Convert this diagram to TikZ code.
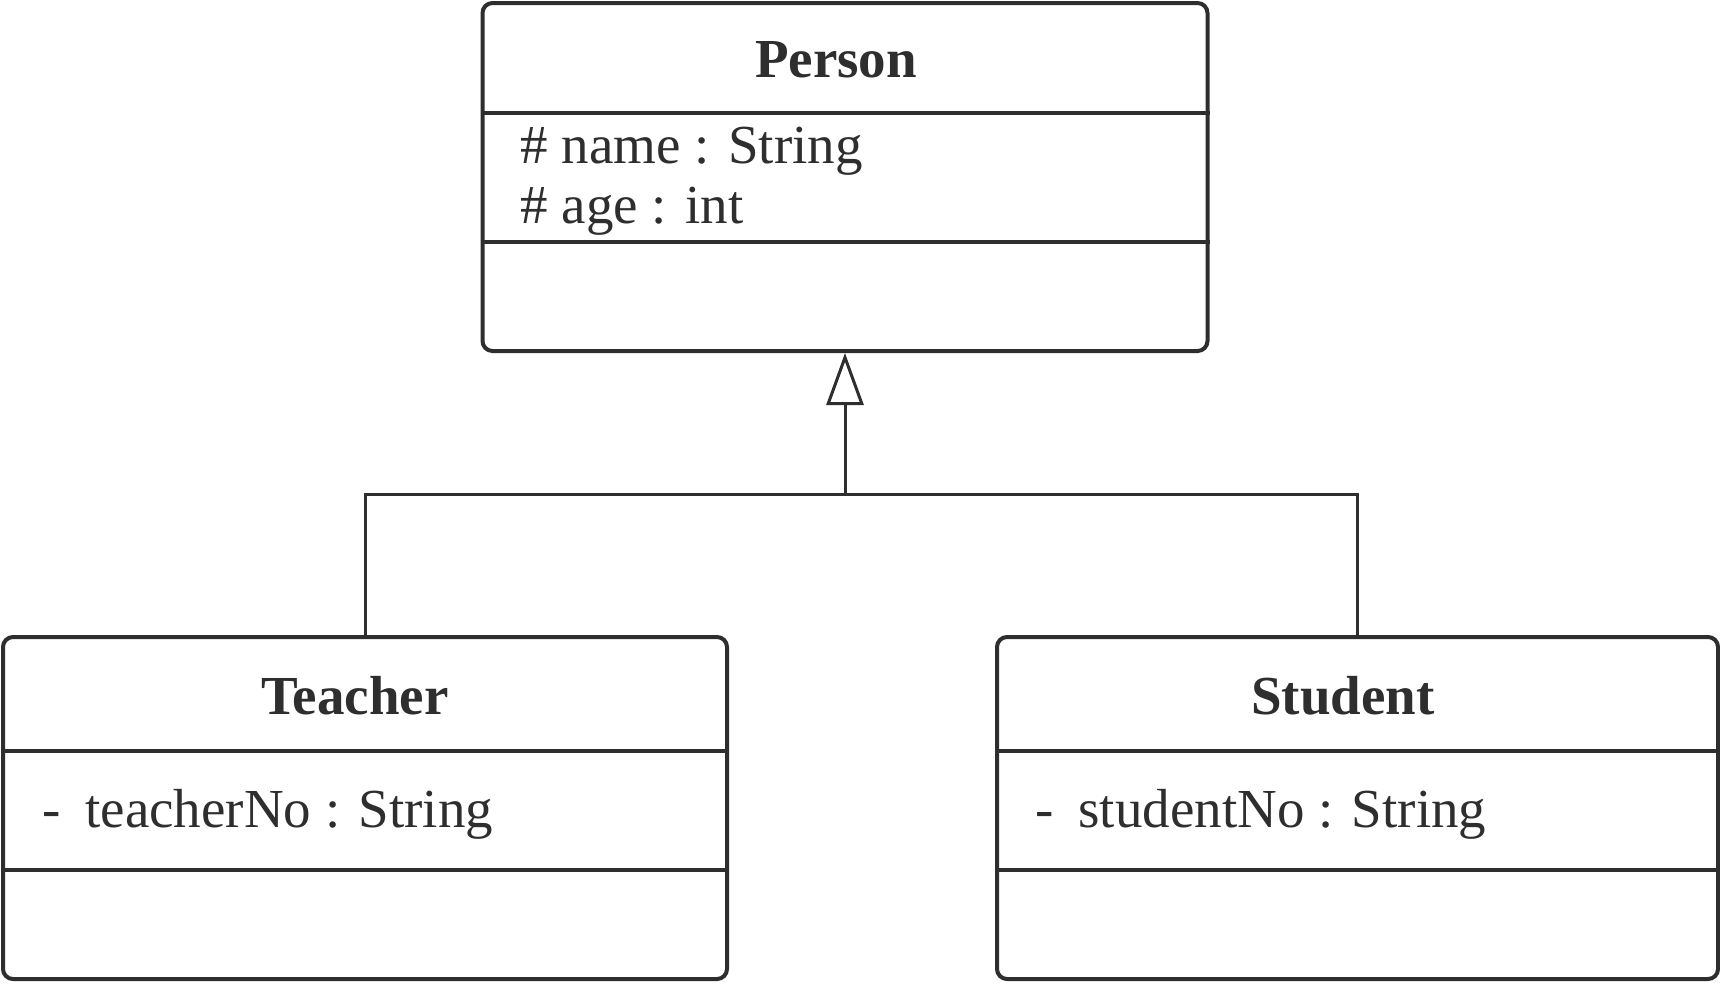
\documentclass[tikz,border=0pt]{standalone}
\usepackage{fontspec}
\setmainfont{Liberation Serif}
\usetikzlibrary{arrows.meta}
\definecolor{ink}{HTML}{2E2E2E}
\begin{document}
\begin{tikzpicture}[x=0.5pt,y=-0.5pt,
  classbox/.style={draw=ink, line width=2pt, rounded corners=5pt, inner sep=0pt, minimum width=#1},
  sep/.style={draw=ink, line width=2pt},
  conn/.style={draw=ink, line width=1.5pt},
  title/.style={font=\fontsize{27.5}{33}\selectfont\bfseries, text=ink, inner sep=0pt, anchor=base},
  attr/.style={font=\fontsize{27.5}{33}\selectfont, text=ink, inner sep=0pt, anchor=base west}]
\useasboundingbox (0,0) rectangle (1720,982);

% boxes
\node[classbox=362.5pt, minimum height=174pt] (person) at (845,177) {};
\node[classbox=362pt, minimum height=171pt] (teacher) at (365,808) {};
\node[classbox=360.5pt, minimum height=171pt] (student) at (1357.5,808) {};

% compartments
\draw[sep] (person.west |- 0,113) -- (person.east |- 0,113);
\draw[sep] (person.west |- 0,242) -- (person.east |- 0,242);
\draw[sep] (teacher.west |- 0,751) -- (teacher.east |- 0,751);
\draw[sep] (teacher.west |- 0,870) -- (teacher.east |- 0,870);
\draw[sep] (student.west |- 0,751) -- (student.east |- 0,751);
\draw[sep] (student.west |- 0,870) -- (student.east |- 0,870);

% texts
\node[title] (ptitle) at (836,77) {Person};
\node[attr] (pname) at (520,163) {\# name : String};
\node[attr] (page) at (520,223) {\# age : int};
\node[title] (ttitle) at (355,714) {Teacher};
\node[attr] (tno) at (42,827) {-\hspace{0.45em}teacherNo : String};
\node[title] (stitle) at (1343,714) {Student};
\node[attr] (sno) at (1035,827) {-\hspace{0.45em}studentNo : String};

% generalization
\coordinate (junc) at (845,494);
\draw[conn, -{Triangle[open, length=26pt, width=18.5pt, line width=1.5pt]}] (junc) -- (person.south);
\draw[conn] (teacher.north) |- (junc) -| (student.north);
\end{tikzpicture}
\end{document}
